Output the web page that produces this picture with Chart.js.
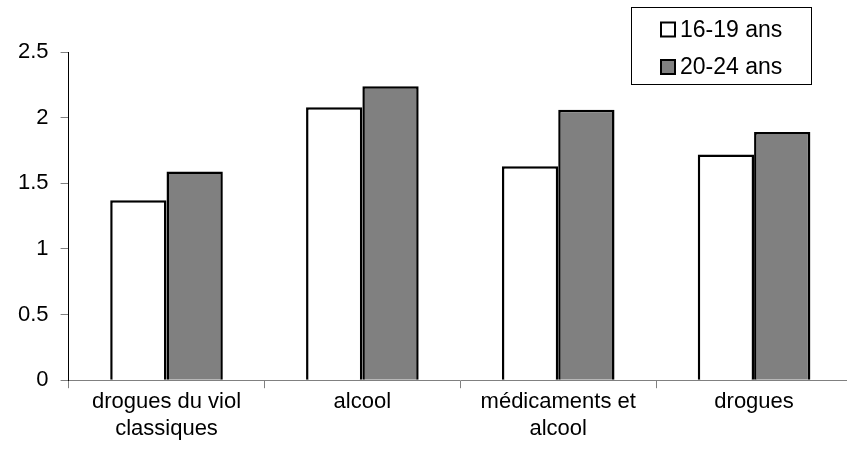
<!DOCTYPE html>
<html>
<head>
<meta charset="utf-8">
<script src="https://cdn.jsdelivr.net/npm/chart.js@4"></script>
<style>
  html, body { margin: 0; padding: 0; overflow: hidden; background: #fff; }
  #wrap { width: 860px; height: 458px; }
</style>
</head>
<body>
<div id="wrap"><canvas id="viewChart" width="860" height="458"></canvas></div>
<script>
// categories and series
const categories = [["drogues du viol", "classiques"], "alcool", ["médicaments et", "alcool"], "drogues"];
const seriesNames = ["16-19 ans", "20-24 ans"];
const values1619 = [1.37, 2.08, 1.63, 1.72];
const values2024 = [1.59, 2.24, 2.06, 1.89];
const seriesColors = ["#ffffff", "#808080"];

const fontFamily = "'Liberation Sans', Arial, sans-serif";

// legend drawn in a box at top right
const boxLegend = {
  id: "boxLegend",
  afterDraw(chart) {
    const ctx = chart.ctx;
    ctx.save();
    ctx.strokeStyle = "#000";
    ctx.lineWidth = 1;
    ctx.strokeRect(631.5, 7.5, 180, 77);
    ctx.font = "23px " + fontFamily;
    ctx.textBaseline = "middle";
    const rows = [29.5, 67];
    chart.data.datasets.forEach((ds, i) => {
      ctx.fillStyle = ds.backgroundColor;
      ctx.fillRect(661, rows[i] - 7, 14, 14);
      ctx.lineWidth = 2;
      ctx.strokeRect(661, rows[i] - 7, 14, 14);
      ctx.fillStyle = "#000";
      ctx.fillText(ds.label, 680, rows[i] + 1);
    });
    ctx.restore();
  }
};

new Chart("viewChart", {
  type: "bar",
  data: {
    labels: categories,
    datasets: [{
      label: seriesNames[0],
      data: values1619,
      backgroundColor: seriesColors[0],
      borderColor: "#000",
      borderWidth: 2.5
    }, {
      label: seriesNames[1],
      data: values2024,
      backgroundColor: seriesColors[1],
      borderColor: "#000",
      borderWidth: 2.5
    }]
  },
  options: {
    responsive: false,
    animation: false,
    categoryPercentage: 0.575,
    barPercentage: 1,
    layout: { padding: { top: 52, right: 8, bottom: 15, left: 6 } },
    plugins: {
      legend: { display: false },
      tooltip: { enabled: false }
    },
    scales: {
      x: {
        grid: { drawOnChartArea: false, tickLength: 8, color: "#808080", offset: true },
        border: { color: "#808080", width: 1 },
        ticks: { color: "#000", font: { family: fontFamily, size: 22 }, maxRotation: 0, padding: 1 }
      },
      y: {
        min: 0,
        max: 2.5,
        grid: { drawOnChartArea: false, tickLength: 8, color: "#808080" },
        border: { color: "#000", width: 1 },
        ticks: {
          stepSize: 0.5,
          color: "#000",
          font: { family: fontFamily, size: 22 },
          padding: 12,
          callback: (v) => String(v)
        }
      }
    }
  },
  plugins: [boxLegend]
});
</script>
</body>
</html>
